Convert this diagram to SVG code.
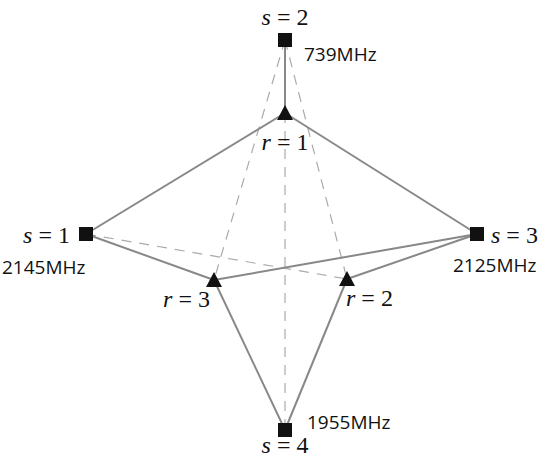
<svg xmlns="http://www.w3.org/2000/svg" width="550" height="457" viewBox="0 0 550 457">
<style>
.e{stroke:#888;stroke-width:2;fill:none}
.d{stroke:#aaa;stroke-width:1.2;stroke-dasharray:10,8;fill:none}
.sq{fill:#111}
.tr{fill:#111}
</style>
<defs/>
<rect width="550" height="457" fill="#fff"/>
<g id="connectors">
<line class="d" x1="285" y1="40" x2="214" y2="280"/>
<line class="d" x1="285" y1="40" x2="347" y2="279"/>
<line class="d" x1="86" y1="234" x2="347" y2="279"/>
<line class="d" x1="285" y1="113" x2="285" y2="430"/>
<line class="e" x1="285" y1="40" x2="285" y2="113"/>
<line class="e" x1="285" y1="113" x2="86" y2="234"/>
<line class="e" x1="285" y1="113" x2="477" y2="234"/>
<line class="e" x1="86" y1="234" x2="214" y2="280"/>
<line class="e" x1="477" y1="234" x2="214" y2="280"/>
<line class="e" x1="477" y1="234" x2="347" y2="279"/>
<line class="e" x1="214" y1="280" x2="285" y2="430"/>
<line class="e" x1="347" y1="279" x2="285" y2="430"/>
</g>
<g font-family="Liberation Serif, serif" font-size="24" fill="#111">
<g id="s2">
<rect class="sq" x="278" y="33" width="14" height="14"/>
<text x="285" y="25" text-anchor="middle"><tspan font-style="italic">s</tspan> = 2</text>
<text x="304" y="61" font-family="Open Sans, DejaVu Sans, sans-serif" font-size="19">739MHz</text>
</g>
<g id="r1">
<polygon class="tr" points="285,105 277,120 293,120"/>
<text x="285" y="150" text-anchor="middle"><tspan font-style="italic">r</tspan> = 1</text>
</g>
<g id="s1">
<rect class="sq" x="79" y="227" width="14" height="14"/>
<text x="70" y="243" text-anchor="end"><tspan font-style="italic">s</tspan> = 1</text>
<text x="2" y="274" font-family="Open Sans, DejaVu Sans, sans-serif" font-size="19">2145MHz</text>
</g>
<g id="s3">
<rect class="sq" x="470" y="227" width="14" height="14"/>
<text x="491" y="243"><tspan font-style="italic">s</tspan> = 3</text>
<text x="453" y="272" font-family="Open Sans, DejaVu Sans, sans-serif" font-size="19">2125MHz</text>
</g>
<g id="r3">
<polygon class="tr" points="214,272 206,287 222,287"/>
<text x="210" y="307" text-anchor="end"><tspan font-style="italic">r</tspan> = 3</text>
</g>
<g id="r2">
<polygon class="tr" points="347,271 339,286 355,286"/>
<text x="346" y="306"><tspan font-style="italic">r</tspan> = 2</text>
</g>
<g id="s4">
<rect class="sq" x="278" y="423" width="14" height="14"/>
<text x="285" y="453" text-anchor="middle"><tspan font-style="italic">s</tspan> = 4</text>
<text x="307" y="429" font-family="Open Sans, DejaVu Sans, sans-serif" font-size="19">1955MHz</text>
</g>
</g>
</svg>
